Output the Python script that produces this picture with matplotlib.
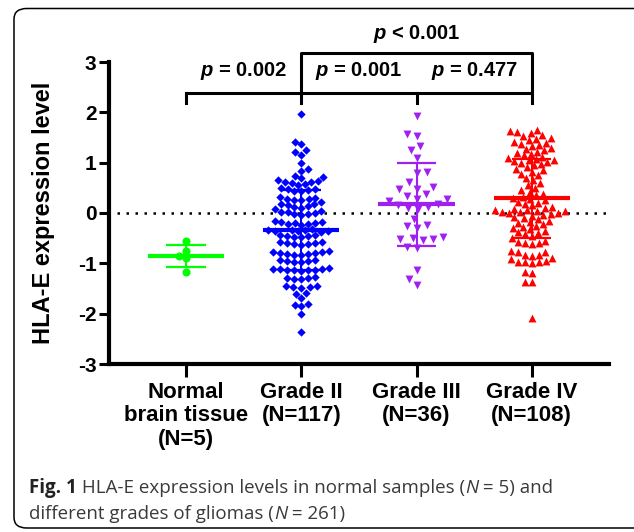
# HLA-E expression by glioma grade - dot plot with mean +/- SD

import numpy as np
import matplotlib
matplotlib.use("Agg")
import matplotlib.pyplot as plt
from matplotlib.patches import FancyBboxPatch

plt.rcParams['font.family'] = ['Liberation Sans', 'DejaVu Sans']
plt.rcParams['mathtext.fontset'] = 'custom'
plt.rcParams['mathtext.it'] = 'Liberation Sans:italic:bold'
plt.rcParams['mathtext.rm'] = 'Liberation Sans:bold'

# ---- data ----
groups = ["Normal\nbrain tissue\n(N=5)", "Grade II\n(N=117)", "Grade III\n(N=36)", "Grade IV\n(N=108)"]

normal = [-0.56, -0.76, -0.85, -0.90, -1.17]

grade2 = [1.97, 1.42, 1.38, 1.25, 1.22, 1.16, 1.00, 0.87, 0.84, 0.74, 0.72, 0.70,
          0.62, 0.60, 0.63, 0.58, 0.65, 0.61, 0.55,
          0.47, 0.45, 0.50, 0.43, 0.48, 0.44,
          0.30, 0.27, 0.25, 0.32, 0.28, 0.22, 0.26,
          0.15, 0.12, 0.17, 0.10, 0.14, 0.08, 0.18,
          0.02, -0.02, 0.00, 0.03, -0.04, 0.01, -0.01,
          -0.18, -0.20, -0.15, -0.22, -0.17, -0.21, -0.19, -0.23,
          -0.33, -0.35, -0.36, -0.32, -0.34, -0.37, -0.35, -0.33,
          -0.45, -0.47, -0.43, -0.48, -0.46, -0.44,
          -0.60, -0.58, -0.62, -0.57, -0.63, -0.61, -0.59,
          -0.78, -0.80, -0.82, -0.77, -0.83, -0.79, -0.81, -0.76, -0.84,
          -0.95, -0.93, -0.97, -0.94, -0.96, -0.98,
          -1.12, -1.14, -1.13, -1.11, -1.15, -1.13, -1.12, -1.14, -1.10,
          -1.30, -1.28, -1.32, -1.29, -1.31,
          -1.47, -1.46, -1.48, -1.45, -1.49,
          -1.58, -1.60, -1.68, -1.82, -1.85, -1.80, -2.00, -2.36]

grade3 = [1.92, 1.56, 1.53, 1.34, 1.25, 1.09, 0.81, 0.80, 0.62, 0.52, 0.48, 0.48,
          0.38, 0.34, 0.28, 0.28, 0.24, 0.18, 0.15, 0.12, 0.09, 0.07,
          -0.11, -0.24, -0.26, -0.30, -0.48, -0.50, -0.52, -0.52, -0.54,
          -0.67, -0.70, -1.13, -1.32, -1.44]

grade4 = [1.65, 1.62, 1.60, 1.58, 1.55, 1.52, 1.50, 1.48, 1.45, 1.42, 1.40, 1.38,
          1.35, 1.33, 1.30, 1.28, 1.25, 1.22, 1.20, 1.18, 1.15, 1.12, 1.10, 1.08,
          1.06, 1.05, 1.03, 1.02, 1.00, 0.98, 0.95,
          0.92, 0.88, 0.85, 0.82, 0.78, 0.75, 0.70, 0.65, 0.60, 0.55, 0.50,
          0.45, 0.42, 0.38, 0.35, 0.32, 0.30, 0.28, 0.25, 0.22, 0.20, 0.18, 0.15, 0.12, 0.10,
          0.08, 0.05, 0.03, 0.02, 0.00, 0.00, 0.01, -0.02, -0.03, -0.05, 0.04, 0.06,
          -0.08, -0.10, -0.12, -0.15, -0.18, -0.20, -0.22, -0.25, -0.28, -0.30,
          -0.32, -0.35, -0.38, -0.40, -0.42, -0.45,
          -0.50, -0.55, -0.58, -0.60, -0.62, -0.60,
          -0.75, -0.77, -0.78, -0.83, -0.85, -0.83, -0.90, -0.92, -0.95, -0.97, -0.97, -0.98, -1.00,
          -1.17, -1.20, -1.37, -1.38, -2.09]

# mean and SD as shown by the bars
means = [-0.86, -0.34, 0.17, 0.29]
sds = [0.22, 0.80, 0.82, 0.79]

colors = ["#00ff00", "#0000ff", "#a020f0", "#ff0000"]
markers = ["o", "D", "v", "^"]
msizes = [34, 18, 32, 32]
spread = [7.0, 6.6, 10.0, 6.8]

pvals = ["p = 0.002", "p = 0.001", "p = 0.477"]
p_top = "p < 0.001"

# ---- figure ----
W, H = 634, 532
fig = plt.figure(figsize=(W / 100, H / 100), dpi=100)
ax = fig.add_axes([109 / W, (H - 364) / H, 500 / W, 302 / H])
ax.set_xlim(-0.668, 3.67)
ax.set_ylim(-3, 3)

# px per data unit (for the swarm layout)
px_x = 500 / (3.67 + 0.668)
px_y = 302 / 6.0


def swarm(vals, d=6.6):
    vals = np.asarray(vals, dtype=float)
    ypx = vals * px_y
    offs = np.zeros(len(vals))
    placed = []
    for i in np.argsort(vals):
        y = ypx[i]
        near = [(xo, yo) for xo, yo in placed if abs(yo - y) < d]
        cands = sorted(np.arange(-60, 60.01, 0.5), key=abs)
        for c in cands:
            if all((c - xo) ** 2 + (y - yo) ** 2 >= d * d for xo, yo in near):
                break
        offs[i] = c
        placed.append((c, y))
    return offs / px_x


data = [normal, grade2, grade3, grade4]
for i, vals in enumerate(data):
    xs = i + swarm(vals, d=spread[i])
    ax.scatter(xs, vals, s=msizes[i], marker=markers[i], color=colors[i],
               linewidths=0, zorder=3)
    m, sd = means[i], sds[i]
    ax.plot([i - 0.33, i + 0.33], [m, m], color=colors[i], lw=3, zorder=4,
            solid_capstyle='butt')
    ax.plot([i, i], [m - sd, m + sd], color=colors[i], lw=1.5, zorder=4)
    for yy in (m - sd, m + sd):
        ax.plot([i - 0.17, i + 0.17], [yy, yy], color=colors[i], lw=1.6, zorder=4,
                solid_capstyle='butt')

# dotted zero line
ax.plot([-0.6, 3.67], [0, 0], color="black", lw=1.8, linestyle=(0, (1, 2.6)),
        dash_capstyle='butt', zorder=2)

# axes style
for s in ["top", "right"]:
    ax.spines[s].set_visible(False)
for s in ["left", "bottom"]:
    ax.spines[s].set_linewidth(3)
ax.set_yticks([-3, -2, -1, 0, 1, 2, 3])
ax.set_yticklabels(["-3", "-2", "-1", "0", "1", "2", "3"], fontsize=15, fontweight="bold")
ax.set_xticks(range(4))
ax.set_xticklabels(groups, fontsize=16, fontweight="bold", linespacing=1.15)
ax.tick_params(axis="y", width=2.2, length=7, pad=2)
ax.tick_params(axis="x", width=2.2, length=9, pad=4)
ax.set_ylabel("HLA-E expression level", fontsize=17, fontweight="bold")
ax.yaxis.set_label_coords(-0.108, 0.5)

# significance brackets
blk = dict(color="black", lw=2.2, clip_on=False, solid_capstyle='projecting')
y_lo, y_leg, y_hi = 2.39, 2.18, 3.17
ax.plot([0, 3], [y_lo, y_lo], **blk)
for xx in [0, 1, 2]:
    ax.plot([xx, xx], [y_lo, y_leg], **blk)
ax.plot([1, 1, 3, 3], [y_lo, y_hi, y_hi, y_leg], **blk)

for k, p in enumerate(pvals):
    ax.text(k + 0.5, 2.82, "$p$" + p[1:], ha="center", va="center",
            fontsize=14.5, fontweight="bold", clip_on=False)
ax.text(2.0, 3.56, "$p$" + p_top[1:], ha="center", va="center",
        fontsize=14.5, fontweight="bold", clip_on=False)

# caption frame
frame = FancyBboxPatch((14 / W, 4 / H), (W + 10) / W, (H - 12.5) / H,
                       boxstyle="round,pad=0,rounding_size=0.02",
                       transform=fig.transFigure, fill=False, ec="black", lw=1.1)
fig.patches.append(frame)

# caption text laid out in runs
cap_font = ['Open Sans', 'DejaVu Sans']
cap_size = 13.5


def text_runs(x_px, base_px, parts):
    fig.canvas.draw()
    r = fig.canvas.get_renderer()
    x = x_px
    for s, kw in parts:
        style = dict(family=cap_font, fontsize=cap_size, color="#3a3a3a")
        style.update(kw)
        t = fig.text(x / W, (H - base_px) / H, s, va="baseline", ha="left", **style)
        x += t.get_window_extent(renderer=r).width


text_runs(29, 493, [("Fig. 1", dict(fontweight="bold", color="#222222")),
                    (" HLA-E expression levels in normal samples (", {}),
                    ("N", dict(style="italic")),
                    (" = 5) and", {})])
text_runs(29, 519, [("different grades of gliomas (", {}),
                    ("N", dict(style="italic")),
                    (" = 261)", {})])

fig.savefig("out.png", dpi=100)
